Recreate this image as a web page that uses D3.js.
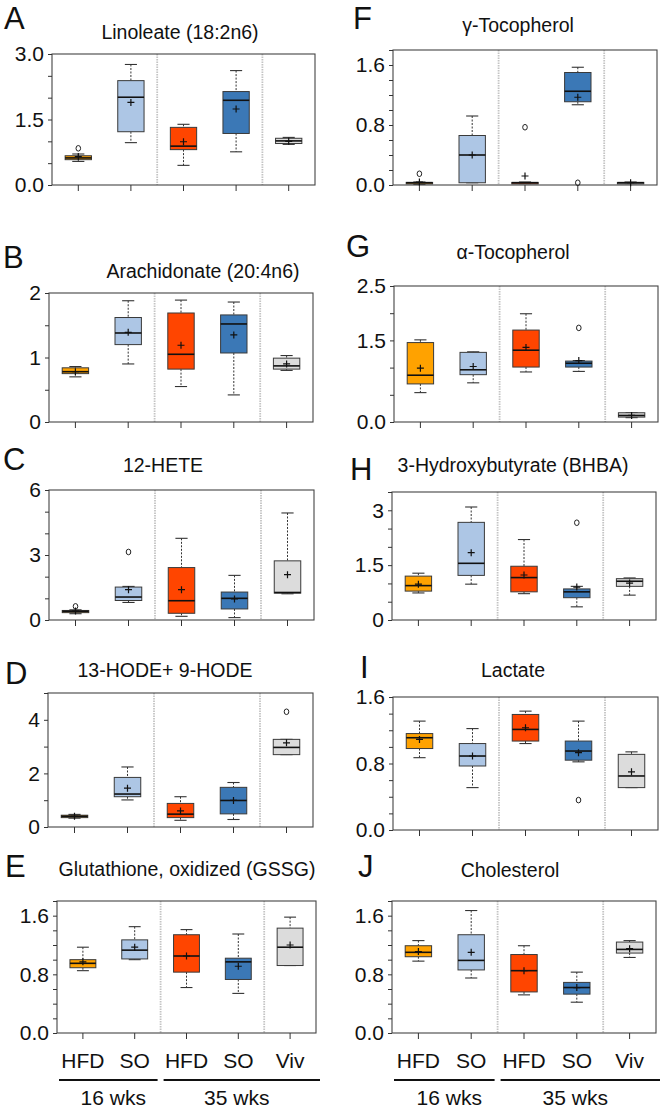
<!DOCTYPE html>
<html>
<head>
<meta charset="utf-8">
<script src="https://cdn.jsdelivr.net/npm/d3@7"></script>
<style>
  body { margin: 0; background: #fff; }
  text { font-family: "Liberation Sans", Arial, sans-serif; fill: #111; }
</style>
</head>
<body>
<script>
// groups along every x axis
const groups = ["HFD", "SO", "HFD", "SO", "Viv"];
const periods = ["16 wks", "35 wks"];
const groupColors = ["#ffa200", "#adc6e5", "#ff4500", "#3b78b6", "#dcdcdc"];

const letters = ["A", "B", "C", "D", "E", "F", "G", "H", "I", "J"];
const titles = ["Linoleate (18:2n6)", "Arachidonate (20:4n6)", "12-HETE", "13-HODE+ 9-HODE",
  "Glutathione, oxidized (GSSG)", "γ-Tocopherol", "α-Tocopherol", "3-Hydroxybutyrate (BHBA)",
  "Lactate", "Cholesterol"];
const yMax = [3, 2, 6, 5, 1.8, 1.8, 2.5, 3.5, 1.6, 1.8];
const yStep = [0.5, 0.5, 1, 1, 0.2, 0.2, 0.5, 0.5, 0.2, 0.2];
const yLabelVals = [[0, 1.5, 3], [0, 1, 2], [0, 3, 6], [0, 2, 4], [0, 0.8, 1.6],
  [0, 0.8, 1.6], [0, 1.5, 2.5], [0, 1.5, 3], [0, 0.8, 1.6], [0, 0.8, 1.6]];
const yFormats = [".1f", "d", "d", "d", ".1f", ".1f", ".1f", "~g", ".1f", ".1f"];

// per group: [whisker low, q1, median, q3, whisker high, mean]
const linoleate = [[0.54, 0.58, 0.62, 0.67, 0.71, 0.65], [0.97, 1.22, 2.01, 2.39, 2.76, 1.89],
  [0.45, 0.81, 0.89, 1.32, 1.39, 0.99], [0.76, 1.18, 1.94, 2.14, 2.62, 1.74], [0.93, 0.95, 1.01, 1.07, 1.09, 1.0]];
const arachidonate = [[0.70, 0.75, 0.78, 0.84, 0.86, 0.78], [0.90, 1.20, 1.38, 1.62, 1.88, 1.39],
  [0.55, 0.82, 1.05, 1.69, 1.89, 1.19], [0.42, 1.07, 1.52, 1.66, 1.86, 1.35], [0.80, 0.82, 0.87, 0.99, 1.03, 0.90]];
const hete12 = [[0.29, 0.34, 0.40, 0.44, 0.47, 0.41], [0.81, 0.90, 1.06, 1.52, 1.55, 1.40],
  [0.17, 0.31, 0.89, 2.42, 3.77, 1.40], [0.11, 0.51, 1.0, 1.29, 2.06, 0.97], [1.21, 1.24, 1.27, 2.73, 4.94, 2.09]];
const hode = [[0.33, 0.35, 0.40, 0.44, 0.47, 0.40], [1.01, 1.13, 1.23, 1.85, 2.24, 1.45],
  [0.25, 0.35, 0.48, 0.88, 1.13, 0.60], [0.28, 0.49, 0.99, 1.48, 1.66, 0.99], [2.70, 2.70, 2.97, 3.27, 3.27, 3.14]];
const gssg = [[0.85, 0.89, 0.95, 1.0, 1.17, 0.97], [1.0, 1.01, 1.13, 1.27, 1.45, 1.17],
  [0.62, 0.83, 1.05, 1.34, 1.41, 1.05], [0.54, 0.73, 0.97, 1.02, 1.35, 0.91], [0.92, 0.92, 1.17, 1.43, 1.58, 1.20]];
const gammaToco = [[0.01, 0.02, 0.03, 0.035, 0.04, 0.04], [0.03, 0.03, 0.40, 0.66, 0.92, 0.40],
  [0.02, 0.025, 0.03, 0.035, 0.04, 0.12], [1.07, 1.11, 1.25, 1.50, 1.57, 1.17], [0.02, 0.025, 0.03, 0.035, 0.04, 0.03]];
const alphaToco = [[0.54, 0.70, 0.86, 1.46, 1.51, 0.99], [0.72, 0.87, 0.96, 1.28, 1.29, 1.02],
  [0.92, 1.01, 1.32, 1.69, 1.99, 1.37], [0.93, 1.01, 1.08, 1.12, 1.13, 1.13], [0.08, 0.09, 0.12, 0.17, 0.17, 0.12]];
const bhba = [[0.74, 0.79, 0.94, 1.20, 1.28, 0.98], [0.98, 1.22, 1.55, 2.67, 3.09, 1.84],
  [0.72, 0.77, 1.16, 1.47, 2.20, 1.23], [0.36, 0.61, 0.77, 0.85, 0.92, 0.90], [0.68, 0.92, 1.06, 1.13, 1.15, 1.01]];
const lactate = [[0.87, 0.98, 1.11, 1.16, 1.31, 1.09], [0.51, 0.77, 0.89, 1.04, 1.22, 0.89],
  [1.04, 1.07, 1.21, 1.39, 1.43, 1.23], [0.82, 0.84, 0.95, 1.07, 1.31, 0.93], [0.51, 0.51, 0.65, 0.91, 0.94, 0.70]];
const cholesterol = [[0.98, 1.04, 1.10, 1.19, 1.26, 1.11], [0.75, 0.86, 0.99, 1.34, 1.67, 1.10],
  [0.52, 0.56, 0.85, 1.07, 1.19, 0.85], [0.42, 0.53, 0.62, 0.69, 0.83, 0.62], [1.03, 1.09, 1.14, 1.24, 1.26, 1.15]];

// outliers per panel, per group
const outliers = [
  [[0.84], [], [], [], []],
  [[], [], [], [], []],
  [[0.63], [3.14], [], [], []],
  [[], [], [], [], [4.30]],
  [[], [], [], [], []],
  [[0.15], [], [0.77], [0.03], []],
  [[], [], [], [1.73], []],
  [[], [], [], [2.66], []],
  [[], [], [], [0.36], []],
  [[], [], [], [], []]
];

const stats = [linoleate, arachidonate, hete12, hode, gssg, gammaToco, alphaToco, bhba, lactate, cholesterol];

// panel placement on the page
const layout = [
  {x0: 52, x1: 315, y0: 54, y1: 185, lx: 4, ly: 29, tx: 180, ty: 39},
  {x0: 49, x1: 313, y0: 293, y1: 422, lx: 3, ly: 268, tx: 203, ty: 278},
  {x0: 49, x1: 314, y0: 490, y1: 620, lx: 3, ly: 470, tx: 163, ty: 472},
  {x0: 48, x1: 313, y0: 693, y1: 827, lx: 5, ly: 684, tx: 165, ty: 677},
  {x0: 57, x1: 316, y0: 901, y1: 1033, lx: 5, ly: 877, tx: 187, ty: 876},
  {x0: 393, x1: 657, y0: 50, y1: 185, lx: 353, ly: 29, tx: 518, ty: 32},
  {x0: 394, x1: 658, y0: 286, y1: 422, lx: 346, ly: 257, tx: 513, ty: 259},
  {x0: 392, x1: 656, y0: 492, y1: 620, lx: 350, ly: 480, tx: 513, ty: 472},
  {x0: 393, x1: 658, y0: 697, y1: 830, lx: 360, ly: 678, tx: 513, ty: 677},
  {x0: 392, x1: 656, y0: 901, y1: 1033, lx: 358, ly: 877, tx: 510, ty: 877}
];

const svg = d3.select("body").append("svg")
  .attr("width", 666)
  .attr("height", 1110);
svg.append("rect").attr("width", 666).attr("height", 1110).attr("fill", "#fff");

stats.forEach(function (data, i) {
  const L = layout[i];
  const x = d3.scaleBand().domain(d3.range(groups.length)).range([L.x0, L.x1]);
  const y = d3.scaleLinear().domain([0, yMax[i]]).range([L.y1, L.y0]);
  const g = svg.append("g");

  g.append("text").attr("x", L.lx).attr("y", L.ly).attr("font-size", 31).text(letters[i]);
  g.append("text").attr("x", L.tx).attr("y", L.ty).attr("font-size", 19.5)
    .attr("text-anchor", "middle").text(titles[i]);

  // dotted separators between time points
  [2, 4].forEach(function (k) {
    g.append("line")
      .attr("x1", x(k)).attr("x2", x(k))
      .attr("y1", L.y0).attr("y2", L.y1)
      .attr("stroke", "#c4c4c4").attr("stroke-width", 1.8)
      .attr("stroke-dasharray", "1.5,1");
  });

  g.append("rect")
    .attr("x", L.x0).attr("y", L.y0)
    .attr("width", L.x1 - L.x0).attr("height", L.y1 - L.y0)
    .attr("fill", "none").attr("stroke", "#444").attr("stroke-width", 1.1);

  // y axis
  const fmt = d3.format(yFormats[i]);
  const ticks = d3.range(Math.round(yMax[i] / yStep[i]) + 1).map(k => k * yStep[i]);
  const yAxis = g.append("g")
    .attr("transform", "translate(" + L.x0 + ",0)")
    .call(d3.axisLeft(y).tickValues(ticks).tickSize(4).tickPadding(4)
      .tickFormat(function (v) {
        return yLabelVals[i].some(l => Math.abs(l - v) < 1e-6) ? fmt(v) : "";
      }));
  yAxis.select(".domain").remove();
  yAxis.selectAll("line").attr("stroke", "#333");
  yAxis.selectAll("text").attr("font-size", 21).attr("fill", "#111")
    .attr("font-family", "Liberation Sans, Arial, sans-serif");

  // x axis ticks (labels only on bottom panels)
  const bottom = i === 4 || i === 9;
  const xAxis = g.append("g")
    .attr("transform", "translate(0," + L.y1 + ")")
    .call(d3.axisBottom(x).tickSize(6).tickPadding(14)
      .tickFormat(k => bottom ? groups[k] : ""));
  xAxis.select(".domain").remove();
  xAxis.selectAll("line").attr("stroke", "#333");
  xAxis.selectAll("text").attr("font-size", 21).attr("fill", "#111")
    .attr("font-family", "Liberation Sans, Arial, sans-serif");

  const bw = x.bandwidth() * 0.5;
  const cap = bw * 0.46;

  data.forEach(function (s, j) {
    const cx = x(j) + x.bandwidth() / 2;
    const box = g.append("g");
    // whiskers
    [[s[4], s[3]], [s[1], s[0]]].forEach(function (w) {
      box.append("line")
        .attr("x1", cx).attr("x2", cx)
        .attr("y1", y(w[0])).attr("y2", y(w[1]))
        .attr("stroke", "#333").attr("stroke-width", 1)
        .attr("stroke-dasharray", "2,1.5");
    });
    [s[0], s[4]].forEach(function (v) {
      box.append("line")
        .attr("x1", cx - cap / 2).attr("x2", cx + cap / 2)
        .attr("y1", y(v)).attr("y2", y(v))
        .attr("stroke", "#333").attr("stroke-width", 1.1);
    });
    box.append("rect")
      .attr("x", cx - bw / 2).attr("y", y(s[3]))
      .attr("width", bw).attr("height", Math.max(1.5, y(s[1]) - y(s[3])))
      .attr("fill", groupColors[j]).attr("stroke", "#3a3a3a").attr("stroke-width", 1);
    box.append("line")
      .attr("x1", cx - bw / 2).attr("x2", cx + bw / 2)
      .attr("y1", y(s[2])).attr("y2", y(s[2]))
      .attr("stroke", "#111").attr("stroke-width", 1.6);
    // mean
    const my = y(s[5]);
    box.append("path")
      .attr("d", "M" + (cx - 3.5) + "," + my + "H" + (cx + 3.5) + "M" + cx + "," + (my - 3.5) + "V" + (my + 3.5))
      .attr("stroke", "#111").attr("stroke-width", 1.2);
    outliers[i][j].forEach(function (v) {
      box.append("ellipse")
        .attr("cx", cx).attr("cy", y(v))
        .attr("rx", 2.3).attr("ry", 2.8)
        .attr("fill", "none").attr("stroke", "#222").attr("stroke-width", 1);
    });
  });

  if (bottom) {
    const uy = 1080;
    const segs = [[L.x0 + 2, x(2) - 3], [x(2) + 3, L.x1 + 4]];
    segs.forEach(function (sg, k) {
      g.append("line")
        .attr("x1", sg[0]).attr("x2", sg[1])
        .attr("y1", uy).attr("y2", uy)
        .attr("stroke", "#111").attr("stroke-width", 1.8);
      g.append("text")
        .attr("x", k === 0 ? (sg[0] + sg[1]) / 2 + 5 : (sg[0] + sg[1]) / 2 - 5)
        .attr("y", 1105).attr("font-size", 21).attr("text-anchor", "middle")
        .text(periods[k]);
    });
  }
});
</script>
</body>
</html>
